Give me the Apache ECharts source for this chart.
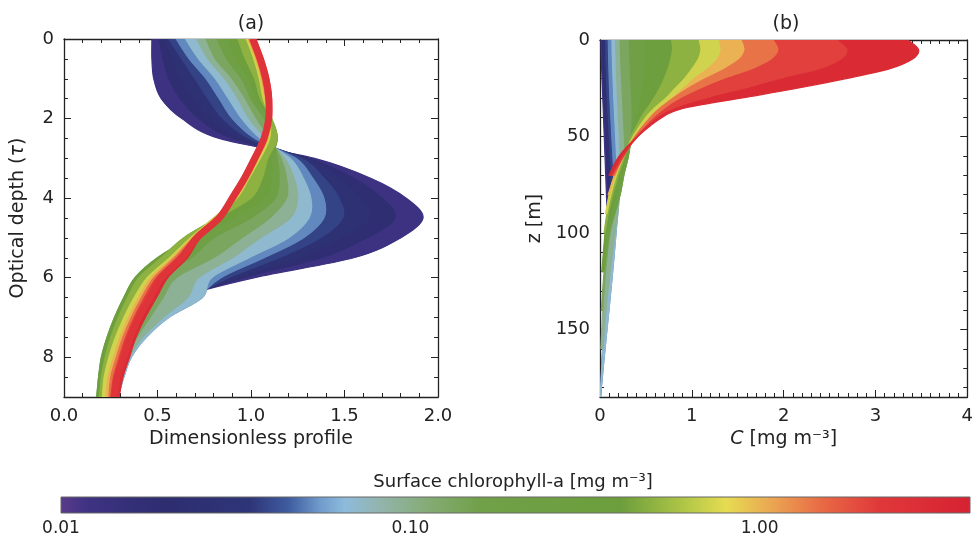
<!DOCTYPE html>
<html><head><meta charset="utf-8">
<script src="https://cdn.jsdelivr.net/npm/echarts@6.0.0/dist/echarts.min.js"></script>
<style>html,body{margin:0;padding:0;background:#fff}#c{width:976px;height:541px}</style>
</head><body><div id="c"></div>
<script>
// ---------- DATA ----------
// surface chlorophyll levels of the drawn family of profiles (mg m^-3)
const chlLevels = [0.01,0.015,0.022,0.032,0.045,0.06,0.08,0.11,0.16,0.25,0.4,0.6,0.85,1.2,1.7,2.5,4.0];

// panel (a): optical depth grid
const tauGrid = [0,0.5,1,1.5,2,2.5,3,3.5,4,4.5,5,5.5,6,6.5,7,7.5,8,8.5,9];
// panel (a): dimensionless profile for each chlorophyll level
const profA_0010 = [0.47,0.47,0.48,0.52,0.63,0.83,1.34,1.64,1.83,1.92,1.80,1.55,1.02,0.62,0.47,0.38,0.33,0.30,0.27];
const profA_0015 = [0.51,0.53,0.56,0.62,0.72,0.90,1.31,1.55,1.70,1.77,1.62,1.38,0.96,0.64,0.48,0.385,0.335,0.30,0.275];
const profA_0022 = [0.54,0.58,0.63,0.70,0.79,0.95,1.29,1.47,1.58,1.63,1.48,1.25,0.92,0.66,0.49,0.39,0.34,0.305,0.28];
const profA_0032 = [0.56,0.63,0.70,0.77,0.85,0.99,1.27,1.39,1.47,1.49,1.37,1.15,0.88,0.68,0.50,0.40,0.345,0.31,0.28];
const profA_0045 = [0.60,0.67,0.76,0.83,0.90,1.02,1.24,1.33,1.39,1.39,1.28,1.07,0.84,0.71,0.53,0.42,0.35,0.315,0.285];
const profA_0060 = [0.65,0.72,0.81,0.88,0.95,1.05,1.21,1.28,1.32,1.31,1.20,0.99,0.79,0.74,0.56,0.44,0.36,0.32,0.29];
const profA_0080 = [0.71,0.77,0.86,0.93,0.99,1.08,1.18,1.23,1.25,1.21,1.05,0.90,0.72,0.66,0.53,0.42,0.35,0.315,0.29];
const profA_0110 = [0.76,0.81,0.90,0.97,1.03,1.10,1.16,1.19,1.19,1.10,0.95,0.80,0.60,0.53,0.46,0.39,0.34,0.31,0.285];
const profA_0160 = [0.82,0.87,0.95,1.00,1.07,1.12,1.14,1.15,1.13,1.00,0.80,0.68,0.50,0.44,0.39,0.35,0.31,0.28,0.26];
const profA_0250 = [0.88,0.92,0.99,1.03,1.10,1.14,1.11,1.11,1.07,0.90,0.68,0.50,0.38,0.32,0.27,0.23,0.20,0.185,0.175];
const profA_0400 = [0.93,0.97,1.02,1.05,1.11,1.14,1.09,1.06,1.00,0.82,0.64,0.52,0.40,0.34,0.29,0.25,0.22,0.20,0.19];
const profA_0600 = [0.975,1.015,1.045,1.065,1.10,1.10,1.05,0.99,0.925,0.80,0.675,0.565,0.445,0.375,0.32,0.275,0.24,0.215,0.205];
const profA_0850 = [0.985,1.025,1.055,1.075,1.095,1.09,1.04,0.985,0.92,0.805,0.685,0.58,0.465,0.40,0.345,0.30,0.265,0.235,0.225];
const profA_1200 = [0.99,1.03,1.06,1.08,1.09,1.085,1.035,0.98,0.915,0.81,0.69,0.59,0.48,0.415,0.36,0.315,0.28,0.25,0.24];
const profA_1700 = [0.995,1.035,1.065,1.085,1.09,1.08,1.03,0.975,0.91,0.815,0.695,0.605,0.495,0.43,0.375,0.33,0.295,0.265,0.25];
const profA_2500 = [1.01,1.05,1.08,1.095,1.095,1.07,1.02,0.965,0.90,0.83,0.71,0.63,0.52,0.46,0.40,0.355,0.32,0.285,0.27];
const profA_4000 = [1.025,1.065,1.095,1.11,1.10,1.06,1.005,0.95,0.885,0.845,0.73,0.66,0.555,0.495,0.435,0.385,0.35,0.315,0.295];

// panel (b): depth grid (m)
const zGrid = [0,5,10,15,20,25,30,35,40,50,60,70,80,90,100,120,140,160,185];
// panel (b): chlorophyll concentration (mg m^-3) for each level (each profile ends at its last depth)
const profB_0010 = [0.01,0.012,0.015,0.018,0.022,0.026,0.03,0.034,0.038,0.046,0.054,0.062,0.07,0.076,0.08,0.078,0.06,0.03,0.0];
const profB_0015 = [0.025,0.027,0.03,0.033,0.037,0.041,0.045,0.05,0.055,0.064,0.074,0.084,0.092,0.097,0.1,0.092,0.068,0.035,0.001];
const profB_0022 = [0.04,0.042,0.045,0.048,0.052,0.056,0.06,0.065,0.07,0.08,0.09,0.1,0.108,0.112,0.113,0.1,0.073,0.038,0.002];
const profB_0032 = [0.06,0.062,0.065,0.068,0.072,0.076,0.08,0.085,0.09,0.1,0.11,0.12,0.126,0.128,0.127,0.108,0.077,0.04,0.003];
const profB_0045 = [0.09,0.092,0.094,0.097,0.1,0.104,0.108,0.113,0.118,0.128,0.14,0.15,0.155,0.157,0.155,0.125,0.085,0.045,0.004];
const profB_0060 = [0.13,0.132,0.135,0.138,0.142,0.146,0.15,0.155,0.16,0.17,0.18,0.19,0.195,0.19,0.175,0.138,0.097,0.055,0.005];
const profB_0080 = [0.17,0.172,0.175,0.178,0.182,0.186,0.19,0.195,0.2,0.21,0.215,0.215,0.21,0.195,0.165,0.11,0.065,0.03,0.002];
const profB_0110 = [0.22,0.223,0.226,0.23,0.235,0.24,0.245,0.25,0.255,0.265,0.27,0.25,0.21,0.16,0.11,0.06,0.03,0.01];
const profB_0160 = [0.32,0.323,0.326,0.33,0.335,0.34,0.345,0.35,0.35,0.34,0.31,0.26,0.22,0.16,0.1,0.045,0.015];
const profB_0250 = [0.5,0.505,0.5,0.49,0.48,0.465,0.45,0.43,0.4,0.35,0.3,0.24,0.18,0.12,0.07,0.03];
const profB_0400 = [0.78,0.79,0.77,0.74,0.7,0.65,0.59,0.52,0.45,0.34,0.27,0.2,0.14,0.09,0.055,0.02];
const profB_0600 = [1.08,1.1,1.07,1.0,0.92,0.82,0.72,0.6,0.5,0.36,0.26,0.18,0.12,0.075,0.045];
const profB_0850 = [1.3,1.32,1.28,1.17,1.03,0.91,0.79,0.66,0.55,0.38,0.25,0.16,0.1,0.06];
const profB_1200 = [1.55,1.58,1.52,1.36,1.15,0.96,0.8,0.66,0.55,0.38,0.26,0.16,0.09];
const profB_1700 = [1.9,1.95,1.88,1.68,1.38,1.12,0.9,0.73,0.6,0.4,0.26,0.14];
const profB_2500 = [2.6,2.7,2.64,2.42,2.0,1.62,1.2,0.85,0.64,0.41,0.24,0.12];
const profB_4000 = [3.35,3.47,3.4,3.15,2.68,2.15,1.55,0.95,0.68,0.41,0.21,0.1];

// colour scale of the colour bar
const colorbarRange = [0.01, 4];
const colorbarTicks = [0.01, 0.1, 1];
const cmapValues = [0.01,0.012,0.02,0.035,0.045,0.055,0.065,0.08,0.11,0.16,0.4,0.6,0.8,1.1,1.5,2.2,4.0];
const cmapColors = ['#5b3a8a','#3d3282','#2d2d70','#2e3678','#3f5da0','#6f9acb','#8dbbdb','#93b5b2','#86ac78','#70a048','#6c9e3c','#aec546','#e6dc52','#eba352','#e86a45','#e0383a','#d62232'];

// ---------- helpers ----------
const curvesA = [profA_0010,profA_0015,profA_0022,profA_0032,profA_0045,profA_0060,profA_0080,profA_0110,profA_0160,profA_0250,profA_0400,profA_0600,profA_0850,profA_1200,profA_1700,profA_2500,profA_4000];
const curvesB = [profB_0010,profB_0015,profB_0022,profB_0032,profB_0045,profB_0060,profB_0080,profB_0110,profB_0160,profB_0250,profB_0400,profB_0600,profB_0850,profB_1200,profB_1700,profB_2500,profB_4000];

function hexRgb(h){return [parseInt(h.substr(1,2),16),parseInt(h.substr(3,2),16),parseInt(h.substr(5,2),16)];}
function cmap(v){
  const lv = Math.log10(v);
  for (let i=0;i<cmapValues.length-1;i++){
    const a=Math.log10(cmapValues[i]), b=Math.log10(cmapValues[i+1]);
    if (lv<=b || i===cmapValues.length-2){
      let t=(lv-a)/(b-a); t=Math.max(0,Math.min(1,t));
      const c0=hexRgb(cmapColors[i]), c1=hexRgb(cmapColors[i+1]);
      return 'rgb('+c0.map((x,k)=>Math.round(x+(c1[k]-x)*t)).join(',')+')';
    }
  }
  return cmapColors[cmapColors.length-1];
}
function f2(p){return p[0].toFixed(2)+','+p[1].toFixed(2);}
function smoothSeg(p){
  let d='';
  for (let i=0;i<p.length-1;i++){
    const p0=p[Math.max(i-1,0)], p1=p[i], p2=p[i+1], p3=p[Math.min(i+2,p.length-1)];
    const c1=[p1[0]+(p2[0]-p0[0])/6, p1[1]+(p2[1]-p0[1])/6];
    const c2=[p2[0]-(p3[0]-p1[0])/6, p2[1]-(p3[1]-p1[1])/6];
    d+=' C'+f2(c1)+' '+f2(c2)+' '+f2(p2);
  }
  return d;
}
function bandRenderer(curves, grid){
  return function(params, api){
    const i=params.dataIndex;
    const n=Math.min(curves[i].length, curves[i+1].length);
    const pa=curves[i].slice(0,n).map((v,k)=>api.coord([v,grid[k]]));
    const pb=curves[i+1].slice(0,n).map((v,k)=>api.coord([v,grid[k]])).reverse();
    const d='M'+f2(pa[0])+smoothSeg(pa)+' L'+f2(pb[0])+smoothSeg(pb)+' Z';
    const col=cmap(Math.sqrt(chlLevels[i]*chlLevels[i+1]));
    return {type:'path', shape:{pathData:d}, style:{fill:col, stroke:col, lineWidth:1.2}};
  };
}
function lineRenderer(curve, grid, chl, width){
  return function(params, api){
    const p=curve.map((v,k)=>api.coord([v,grid[k]]));
    return {type:'path', shape:{pathData:'M'+f2(p[0])+smoothSeg(p)}, style:{fill:null, stroke:cmap(chl), lineWidth:width, lineCap:'butt'}};
  };
}
const bandData = chlLevels.slice(0,-1).map((c,i)=>[i,0]);

const FONT='DejaVu Sans', TXT='#222';
const tickStyle = (len)=>({show:true, inside:true, length:len, lineStyle:{color:TXT,width:1}});
function axisBase(extra){
  return Object.assign({
    type:'value', splitLine:{show:false},
    axisLine:{show:true,onZero:false,lineStyle:{color:TXT,width:1.3}},
    axisTick:tickStyle(7),
    minorTick:{show:true,length:4,lineStyle:{color:TXT,width:1}},
    axisLabel:{color:TXT,fontFamily:FONT,fontSize:18,margin:10,showMaxLabel:false},
    nameTextStyle:{color:TXT,fontFamily:FONT,fontSize:19}
  }, extra);
}

const chart = echarts.init(document.getElementById('c'), null, {renderer:'canvas'});
const option = {
  animation:false,
  backgroundColor:'#fff',
  grid:[
    {left:64, top:39, width:374, height:358},
    {left:600, top:40, width:372, height:357},
    {left:61, top:497, width:909, height:16}
  ],
  xAxis:[
    axisBase({gridIndex:0,position:'bottom',min:0,max:2,interval:0.5,
      minorTick:{show:true,splitNumber:5,length:4,lineStyle:{color:TXT}},
      axisLabel:{color:TXT,fontFamily:FONT,fontSize:18,margin:10,formatter:v=>v.toFixed(1)},
      name:'Dimensionless profile',nameLocation:'middle',nameGap:31}),
    axisBase({gridIndex:0,position:'top',min:0,max:2,interval:0.5,
      minorTick:{show:true,splitNumber:5,length:4,lineStyle:{color:TXT}},axisLabel:{show:false}}),
    axisBase({gridIndex:1,position:'bottom',min:0,max:4,interval:1,
      minorTick:{show:true,splitNumber:10,length:4,lineStyle:{color:TXT}},
      axisLabel:{color:TXT,fontFamily:FONT,fontSize:18,margin:10},
      name:'{i|C} [mg m⁻³]',nameLocation:'middle',nameGap:31,
      nameTextStyle:{color:TXT,fontFamily:FONT,fontSize:19,rich:{i:{fontStyle:'italic',fontFamily:FONT,fontSize:19,color:TXT}}}}),
    axisBase({gridIndex:1,position:'top',min:0,max:4,interval:1,
      minorTick:{show:true,splitNumber:10,length:4,lineStyle:{color:TXT}},axisLabel:{show:false}}),
    {gridIndex:2,type:'log',logBase:10,min:colorbarRange[0],max:colorbarRange[1],
      axisLine:{show:false},axisTick:{show:false},splitLine:{show:false},
      axisLabel:{color:TXT,fontFamily:FONT,fontSize:17,margin:7,showMaxLabel:false,
        formatter:v=>(colorbarTicks.some(t=>Math.abs(t-v)<1e-9)?v.toFixed(2):'')}}
  ],
  yAxis:[
    axisBase({gridIndex:0,position:'left',inverse:true,min:0,max:9,interval:2,
      minorTick:{show:true,splitNumber:4,length:4,lineStyle:{color:TXT}},
      name:'Optical depth ({i|τ})',nameLocation:'middle',nameGap:36,nameRotate:90,
      nameTextStyle:{color:TXT,fontFamily:FONT,fontSize:19,rich:{i:{fontStyle:'italic',fontFamily:FONT,fontSize:19,color:TXT}}}}),
    axisBase({gridIndex:0,position:'right',inverse:true,min:0,max:9,interval:2,
      minorTick:{show:true,splitNumber:4,length:4,lineStyle:{color:TXT}},axisLabel:{show:false}}),
    axisBase({gridIndex:1,position:'left',inverse:true,min:0,max:185,interval:50,
      minorTick:{show:true,splitNumber:5,length:4,lineStyle:{color:TXT}},
      name:'z [m]',nameLocation:'middle',nameGap:55,nameRotate:90}),
    axisBase({gridIndex:1,position:'right',inverse:true,min:0,max:185,interval:50,
      minorTick:{show:true,splitNumber:5,length:4,lineStyle:{color:TXT}},axisLabel:{show:false}}),
    {gridIndex:2,type:'value',min:0,max:1,show:false}
  ],
  graphic:[
    {type:'text',x:251,y:24,style:{text:'(a)',font:'19px "DejaVu Sans"',fill:TXT,align:'center',verticalAlign:'middle'}},
    {type:'text',x:786,y:24,style:{text:'(b)',font:'19px "DejaVu Sans"',fill:TXT,align:'center',verticalAlign:'middle'}},
    {type:'text',x:513,y:482,style:{text:'Surface chlorophyll-a [mg m⁻³]',font:'18px "DejaVu Sans"',fill:TXT,align:'center',verticalAlign:'middle'}}
  ],
  series:[
    {type:'custom',xAxisIndex:0,yAxisIndex:0,clip:true,z:1,data:bandData,renderItem:bandRenderer(curvesA,tauGrid)},
    {type:'custom',xAxisIndex:0,yAxisIndex:0,clip:true,z:1,data:[[0,0]],renderItem:lineRenderer(profA_2500,tauGrid,2.5,7)},
    {type:'custom',xAxisIndex:2,yAxisIndex:2,clip:true,z:1,data:bandData,renderItem:bandRenderer(curvesB,zGrid)},
    {type:'custom',xAxisIndex:4,yAxisIndex:4,data:[[colorbarRange[0],colorbarRange[1]]],
      renderItem:function(params,api){
        const p0=api.coord([api.value(0),0]), p1=api.coord([api.value(1),1]);
        const l0=Math.log10(colorbarRange[0]), l1=Math.log10(colorbarRange[1]);
        const stops=cmapValues.map((v,k)=>({offset:(Math.log10(v)-l0)/(l1-l0),color:cmapColors[k]}));
        return {type:'rect',shape:{x:p0[0],y:p1[1],width:p1[0]-p0[0],height:p0[1]-p1[1]},
          style:{fill:new echarts.graphic.LinearGradient(0,0,1,0,stops),stroke:'#666',lineWidth:1}};
      }}
  ]
};
chart.setOption(option);
</script></body></html>
